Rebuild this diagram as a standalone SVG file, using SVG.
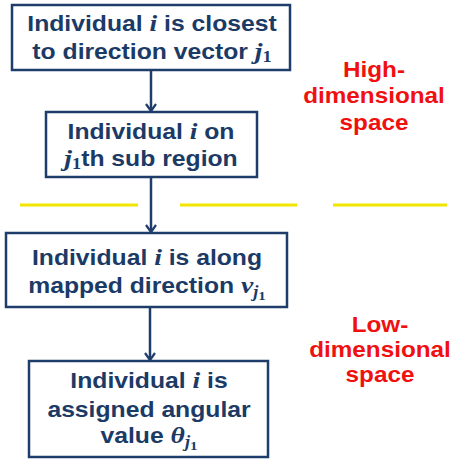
<svg xmlns="http://www.w3.org/2000/svg" width="453" height="462" viewBox="0 0 453 462">
  <style>
    .box { fill: #ffffff; stroke: #1f3d6b; stroke-width: 2.5; }
    .lbl { font-family: "Liberation Sans", Arial, sans-serif; font-weight: bold; font-size: 21.5px; fill: #1c3a66; text-anchor: middle; }
    .m { font-family: "Liberation Serif", "DejaVu Serif", serif; font-style: italic; font-weight: bold; font-size: 24px; }
    .sub { font-size: 16px; }
    .sub1 { font-size: 16px; font-style: normal; }
    .sub2 { font-size: 13px; font-style: normal; }
    .side { font-family: "Liberation Sans", Arial, sans-serif; font-weight: bold; font-size: 21.5px; fill: #f01010; text-anchor: middle; }
    .conn { stroke: #1f3d6b; stroke-width: 2.5; fill: none; }
    .sep { stroke: #f2e600; stroke-width: 3; }
  </style>
  <defs>
    <marker id="head" viewBox="0 0 12 12" refX="10" refY="6" markerWidth="12" markerHeight="12" markerUnits="userSpaceOnUse" orient="auto">
      <path d="M3,1 L10,6 L3,11" fill="none" stroke="#1f3d6b" stroke-width="2.2"/>
    </marker>
  </defs>

  <rect width="453" height="462" fill="#ffffff"/>

  <!-- boundary between the two spaces -->
  <g id="separator">
    <line class="sep" x1="20" y1="205" x2="138" y2="205"/>
    <line class="sep" x1="180" y1="205" x2="297" y2="205"/>
    <line class="sep" x1="333" y1="205" x2="447" y2="205"/>
  </g>

  <g id="connectors">
    <line class="conn" x1="151" y1="70" x2="151" y2="111" marker-end="url(#head)"/>
    <line class="conn" x1="151" y1="177" x2="151" y2="232" marker-end="url(#head)"/>
    <line class="conn" x1="150" y1="307" x2="150" y2="360" marker-end="url(#head)"/>
  </g>

  <g id="node-closest">
    <rect class="box" x="12" y="5" width="278" height="65"/>
    <g transform="translate(152 0) scale(1.15 1)">
      <text class="lbl" x="0" y="31">Individual <tspan class="m">i</tspan> is closest</text>
      <text class="lbl" x="0" y="59">to direction vector <tspan class="m">j</tspan><tspan class="m sub1" dy="3">1</tspan></text>
    </g>
  </g>

  <g id="node-subregion">
    <rect class="box" x="46" y="112" width="211" height="65"/>
    <g transform="translate(151 0) scale(1.15 1)">
      <text class="lbl" x="0" y="139">Individual <tspan class="m">i</tspan> on</text>
      <text class="lbl" x="0" y="166"><tspan class="m">j</tspan><tspan class="m sub1" dy="3">1</tspan><tspan dy="-3">th sub region</tspan></text>
    </g>
  </g>

  <g id="node-mapped">
    <rect class="box" x="6" y="233" width="281" height="74"/>
    <g transform="translate(147 0) scale(1.15 1)">
      <text class="lbl" x="0" y="265">Individual <tspan class="m">i</tspan> is along</text>
      <text class="lbl" x="0" y="293">mapped direction <tspan class="m">v</tspan><tspan class="m sub" dy="4">j</tspan><tspan class="m sub2" dy="3">1</tspan></text>
    </g>
  </g>

  <g id="node-angular">
    <rect class="box" x="29" y="361" width="239" height="96"/>
    <g transform="translate(149 0) scale(1.15 1)">
      <text class="lbl" x="0" y="388">Individual <tspan class="m">i</tspan> is</text>
      <text class="lbl" x="0" y="417">assigned angular</text>
      <text class="lbl" x="0" y="443">value <tspan class="m">θ</tspan><tspan class="m sub" dy="4">j</tspan><tspan class="m sub2" dy="3">1</tspan></text>
    </g>
  </g>

  <g id="label-high">
    <g transform="translate(374 0) scale(1.13 1)">
      <text class="side" x="0" y="77">High-</text>
      <text class="side" x="0" y="103">dimensional</text>
      <text class="side" x="0" y="130">space</text>
    </g>
  </g>

  <g id="label-low">
    <g transform="translate(380 0) scale(1.13 1)">
      <text class="side" x="0" y="332">Low-</text>
      <text class="side" x="0" y="357">dimensional</text>
      <text class="side" x="0" y="382">space</text>
    </g>
  </g>
</svg>
